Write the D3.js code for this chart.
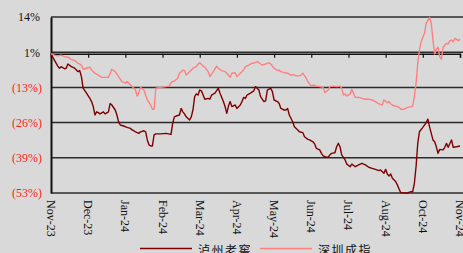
<!DOCTYPE html>
<html>
<head>
<meta charset="utf-8">
<script src="https://cdn.jsdelivr.net/npm/d3@7"></script>
<style>
  html, body { margin: 0; padding: 0; background: #d9d9d9; }
  svg { display: block; }
  .tick text { font-family: "Liberation Serif", "DejaVu Serif", serif; }
</style>
</head>
<body>
<div id="chart-area"></div>
<script>
// trading-day index, % change since Nov-23
const luzhou = [[0,0],[2,-2.4],[4,-4.7],[5,-5.5],[6,-4.9],[8,-5.7],[9,-5.5],[10,-3.9],[12,-4.9],[14,-5.5],
  [16,-6.8],[17,-6.4],[18,-8.7],[19,-13.1],[21,-15.0],[23,-17.0],[24,-18.2],[25,-20.1],[26,-23.3],[27,-22.1],
  [28,-22.4],[29,-22.9],[31,-22.1],[32,-22.9],[34,-22.1],[35,-18.9],[36,-19.5],[38,-21.4],[39,-23.3],[40,-25.9],
  [41,-27.1],[43,-27.5],[45,-28.0],[47,-28.4],[48,-29.0],[49,-29.3],[50,-29.7],[52,-30.3],[53,-29.7],[55,-29.3],
  [56,-29.7],[57,-32.8],[58,-34.7],[59,-35.1],[60,-35.1],[61,-30.9],[62,-30.5],[65,-30.5],[68,-30.3],[71,-30.7],
  [72,-26.5],[73,-24.0],[74,-23.7],[76,-23.3],[77,-20.8],[78,-22.1],[79,-22.9],[80,-24.0],[82,-25.2],[83,-24.0],
  [84,-21.4],[85,-16.3],[86,-15.3],[87,-15.7],[88,-13.8],[89,-14.1],[90,-15.7],[91,-17.3],[93,-17.0],[94,-17.3],
  [95,-15.7],[97,-15.0],[99,-13.1],[100,-15.0],[102,-18.2],[103,-20.1],[104,-22.7],[105,-19.9],[106,-18.2],[107,-20.1],
  [109,-19.5],[110,-20.8],[112,-19.5],[113,-18.2],[114,-16.6],[115,-17.0],[116,-15.7],[118,-15.0],[120,-14.1],[121,-12.5],
  [123,-13.8],[124,-16.3],[126,-18.2],[127,-17.9],[128,-13.8],[130,-13.1],[131,-14.4],[132,-17.6],[134,-18.2],[135,-18.9],
  [136,-20.8],[138,-21.4],[139,-21.4],[140,-20.8],[141,-23.3],[143,-25.9],[144,-27.8],[146,-29.0],[147,-29.7],[149,-30.0],
  [150,-31.6],[152,-32.6],[153,-32.8],[155,-33.5],[156,-34.3],[157,-36.0],[159,-36.6],[160,-37.9],[161,-38.9],[163,-39.4],
  [164,-39.4],[165,-38.5],[166,-37.9],[168,-37.7],[169,-35.4],[170,-34.1],[171,-35.4],[172,-38.5],[174,-40.4],[175,-42.0],
  [177,-43.0],[178,-42.0],[180,-43.0],[182,-42.3],[184,-41.7],[186,-42.3],[188,-43.2],[190,-43.6],[192,-44.0],[194,-44.5],
  [195,-44.2],[197,-45.5],[198,-44.0],[199,-45.8],[200,-46.5],[201,-45.8],[202,-47.4],[204,-48.7],[205,-50.0],[206,-51.6],
  [207,-52.9],[209,-53.0],[211,-53.0],[213,-52.5],[214,-52.5],[215,-49.3],[216,-43.0],[217,-34.1],[218,-29.7],[220,-28.0],
  [222,-26.2],[223,-24.9],[224,-27.8],[226,-32.8],[227,-33.5],[228,-35.4],[229,-37.9],[230,-36.4],[232,-36.6],[233,-35.6],
  [234,-34.1],[235,-35.6],[237,-32.8],[238,-35.6],[240,-35.4],[242,-35.1]];

const shenzhen = [[0,0],[2,-0.5],[4,-0.8],[6,-0.5],[8,-1.1],[10,-1.3],[12,-2.1],[14,-2.6],[16,-3.6],[18,-4.3],
  [19,-5.9],[21,-5.5],[23,-5.1],[24,-6.2],[26,-7.4],[28,-8.1],[30,-9.0],[32,-9.0],[34,-9.0],[35,-7.4],
  [36,-5.9],[38,-6.8],[40,-8.7],[42,-10.6],[44,-11.2],[45,-10.6],[46,-11.2],[48,-12.5],[50,-13.8],[51,-16.1],
  [52,-14.8],[53,-12.8],[55,-13.8],[56,-15.7],[57,-17.6],[59,-19.5],[60,-21.1],[61,-21.1],[62,-13.1],[65,-12.8],
  [68,-12.5],[70,-12.3],[71,-11.0],[73,-10.3],[75,-9.3],[76,-7.4],[77,-6.8],[78,-6.2],[79,-6.4],[80,-8.1],
  [82,-6.8],[84,-5.5],[86,-4.9],[87,-3.9],[88,-3.4],[90,-4.7],[91,-5.1],[93,-6.8],[94,-8.7],[96,-6.8],
  [98,-4.7],[99,-5.5],[101,-6.4],[103,-6.8],[104,-7.4],[106,-9.0],[107,-7.4],[109,-7.2],[110,-8.7],[112,-7.4],
  [114,-6.2],[115,-4.9],[117,-4.3],[119,-3.6],[120,-3.6],[122,-3.0],[124,-3.9],[125,-4.3],[127,-3.9],[129,-3.4],
  [130,-3.9],[132,-5.5],[134,-6.4],[135,-6.2],[136,-6.8],[138,-7.2],[140,-7.4],[142,-8.1],[144,-8.1],[146,-8.5],
  [148,-8.1],[149,-7.4],[151,-9.3],[152,-10.6],[154,-12.3],[155,-11.9],[157,-12.3],[159,-12.5],[161,-12.8],[162,-14.8],
  [164,-13.8],[165,-12.5],[167,-12.3],[169,-12.5],[171,-12.3],[172,-13.1],[173,-15.7],[174,-15.3],[175,-16.1],[177,-15.3],
  [178,-13.5],[180,-16.6],[182,-16.6],[184,-17.0],[186,-17.3],[188,-17.3],[190,-17.6],[192,-18.2],[194,-19.1],[196,-19.5],
  [197,-17.6],[199,-18.6],[200,-18.2],[201,-19.1],[203,-19.9],[204,-19.9],[206,-20.4],[207,-21.1],[209,-21.1],[211,-20.4],
  [213,-20.1],[214,-19.9],[215,-16.3],[216,-11.2],[217,-3.6],[218,1.4],[219,4.6],[221,7.8],[222,11.6],[224,13.9],
  [225,11.6],[226,5.2],[227,-0.1],[228,1.7],[229,2.5],[230,-1.1],[231,-2.1],[232,2.5],[234,4.0],[235,3.7],
  [236,5.0],[237,5.2],[238,4.6],[239,5.9],[241,5.0],[242,5.5]];

const xLabels = ["Nov-23", "Dec-23", "Jan-24", "Feb-24", "Mar-24", "Apr-24", "May-24",
                 "Jun-24", "Jul-24", "Aug-24", "Oct-24", "Nov-24"];
const xLabelDays = [0, 22, 44, 66, 88, 110, 132, 154, 176, 198, 220, 242];
const yTicks = [14, 0.6, -12.8, -26.2, -39.6, -53];
const yLabels = ["14%", "1%", "(13%)", "(26%)", "(39%)", "(53%)"];
const seriesNames = ["泸州老窖", "深圳成指"];
const seriesColors = ["#7f0000", "#ff8080"];

const W = 463, H = 253;
const svg = d3.select("#chart-area").append("svg")
    .attr("width", W)
    .attr("height", H);

const x = d3.scaleLinear().domain([0, 242]).range([51, 460]);
const y = d3.scaleLinear().domain([-53, 14]).range([193, 17]);

// gridlines
svg.append("g")
    .selectAll("line")
    .data(yTicks)
    .enter()
    .append("line")
    .attr("x1", 51)
    .attr("x2", 463)
    .attr("y1", d => y(d))
    .attr("y2", d => y(d))
    .attr("stroke", "#2b2b2b")
    .attr("stroke-width", 1.5);

// y axis
const yAxisCall = d3.axisLeft(y)
    .tickValues(yTicks)
    .tickSize(0)
    .tickPadding(0)
    .tickFormat((d, i) => yLabels[i]);
const yAxis = svg.append("g")
    .attr("transform", "translate(51, 0)")
    .call(yAxisCall);
yAxis.select(".domain").attr("stroke", "#111").attr("stroke-width", 2);
yAxis.selectAll("text")
    .attr("font-size", 12)
    .attr("x", d => d < 0 ? -9 : -11)
    .attr("fill", d => d < 0 ? "#ff2020" : "#111");

// x axis on the zero line
const xAxisCall = d3.axisBottom(x)
    .tickValues(xLabelDays)
    .tickSize(4)
    .tickFormat("");
const xAxis = svg.append("g")
    .attr("transform", `translate(0, ${y(0)})`)
    .call(xAxisCall);
xAxis.select(".domain").attr("stroke", "#111").attr("stroke-width", 1.5);
xAxis.selectAll(".tick line").attr("stroke", "#111").attr("stroke-width", 1.2);

// rotated month labels under the plot
svg.append("g")
    .selectAll("text")
    .data(xLabels)
    .enter()
    .append("text")
    .attr("transform", (d, i) => `translate(${x(xLabelDays[i]) - 4}, 200) rotate(90)`)
    .attr("font-family", "Liberation Serif, serif")
    .attr("font-size", 12)
    .attr("fill", "#111")
    .text(d => d);

// lines
const line = d3.line()
    .x(d => x(d[0]))
    .y(d => y(d[1]));

[luzhou, shenzhen].forEach((s, i) => {
    svg.append("path")
        .datum(s)
        .attr("fill", "none")
        .attr("stroke", seriesColors[i])
        .attr("stroke-width", 1.4)
        .attr("stroke-linejoin", "round")
        .attr("d", line);
});

// legend
const legend = svg.append("g");
const legendX = [140, 260];
seriesNames.forEach((name, i) => {
    legend.append("line")
        .attr("x1", legendX[i])
        .attr("x2", legendX[i] + 52)
        .attr("y1", 248.5)
        .attr("y2", 248.5)
        .attr("stroke", seriesColors[i])
        .attr("stroke-width", 1.5);
    legend.append("text")
        .attr("x", legendX[i] + 58)
        .attr("y", 255)
        .attr("font-family", "Noto Sans CJK SC")
        .attr("font-size", 12)
        .attr("letter-spacing", 1.5)
        .attr("fill", "#111")
        .text(name);
});
</script>
</body>
</html>
